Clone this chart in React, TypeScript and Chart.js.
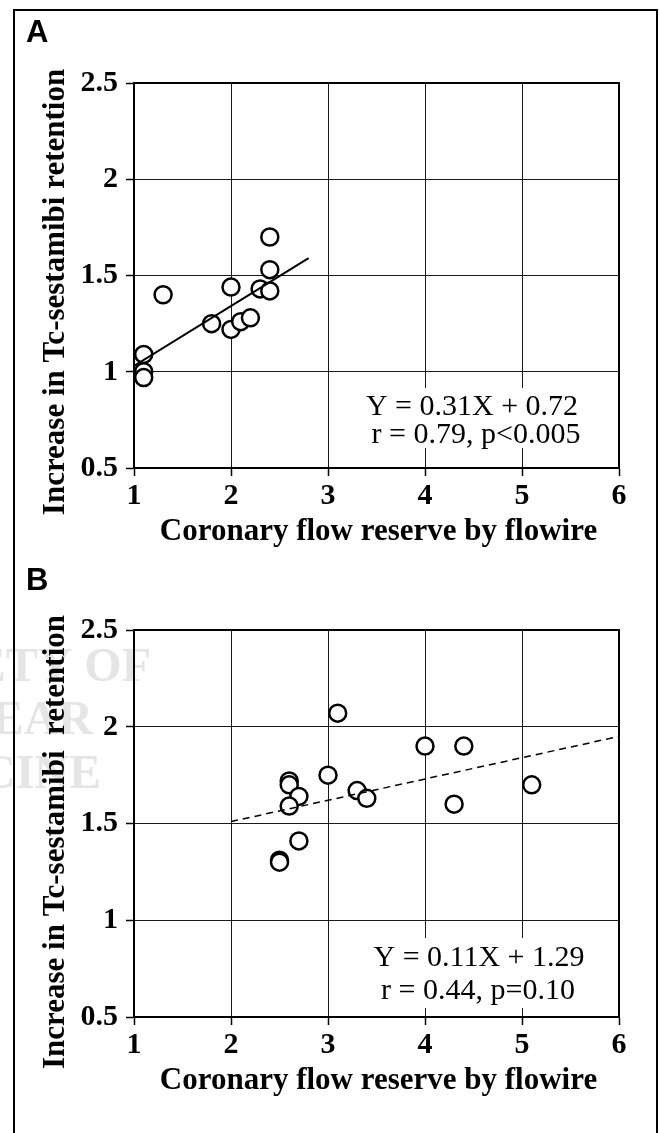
import React, { useEffect, useRef } from "react";
import { Chart, registerables } from "chart.js";

Chart.register(...registerables);

// ---------- data ----------
const xTickValues = [1, 2, 3, 4, 5, 6];
const yTickValues = [0.5, 1, 1.5, 2, 2.5];

// Panel A
const aFlowX = [1.1, 1.1, 1.1, 1.3, 1.8, 2.0, 2.0, 2.1, 2.2, 2.3, 2.4, 2.4, 2.4];
const aRetY = [1.09, 1.0, 0.97, 1.4, 1.25, 1.44, 1.22, 1.26, 1.28, 1.43, 1.42, 1.53, 1.7];
const aFitX = [1.0, 2.8];
const aFitY = [1.03, 1.59];

// Panel B
const bFlowX = [3.1, 4.0, 4.4, 3.0, 2.6, 2.6, 2.7, 2.6, 3.3, 3.4, 5.1, 4.3, 2.7, 2.5, 2.5];
const bRetY = [2.07, 1.9, 1.9, 1.75, 1.72, 1.7, 1.64, 1.59, 1.67, 1.63, 1.7, 1.6, 1.41, 1.31, 1.3];
const bFitX = [2.0, 6.0];
const bFitY = [1.51, 1.95];

const xTitle = "Coronary flow reserve by flowire";
const yTitleA = "Increase in Tc-sestamibi retention";
const yTitleB = "Increase in Tc-sestamibi  retention";
const eqA = ["Y = 0.31X + 0.72", "r = 0.79, p<0.005"];
const eqB = ["Y = 0.11X + 1.29", "r = 0.44, p=0.10"];
const watermark = ["SOCIETY OF", "NUCLEAR", "MEDICINE"];

const SERIF = '"Liberation Serif", "Times New Roman", serif';
const SANS = '"Liberation Sans", Arial, sans-serif';

type PanelCfg = {
  letter: string;
  top: number;
  height: number;
  areaTop: number;
  areaBottom: number;
  xs: number[];
  ys: number[];
  fitX: number[];
  fitY: number[];
  dashed: boolean;
  yTitle: string;
  eq: string[];
  eqBase: number[];
  eqCenter: number[];
  eqBox: number[];
  letterBase: number;
  yTitleCenter: number;
  xTitleBase: number;
  mark: boolean;
};

const panels: PanelCfg[] = [
  {
    letter: "A",
    top: 0,
    height: 560,
    areaTop: 83,
    areaBottom: 468,
    xs: aFlowX,
    ys: aRetY,
    fitX: aFitX,
    fitY: aFitY,
    dashed: false,
    yTitle: yTitleA,
    eq: eqA,
    eqBase: [415, 443],
    eqCenter: [472, 476],
    eqBox: [356, 388, 232, 60],
    letterBase: 42,
    yTitleCenter: 292,
    xTitleBase: 540,
    mark: false,
  },
  {
    letter: "B",
    top: 560,
    height: 573,
    areaTop: 70,
    areaBottom: 457,
    xs: bFlowX,
    ys: bRetY,
    fitX: bFitX,
    fitY: bFitY,
    dashed: true,
    yTitle: yTitleB,
    eq: eqB,
    eqBase: [406, 439],
    eqCenter: [479, 478],
    eqBox: [364, 378, 232, 70],
    letterBase: 30,
    yTitleCenter: 282,
    xTitleBase: 529,
    mark: true,
  },
];

function Panel({ cfg }: { cfg: PanelCfg }) {
  const ref = useRef<HTMLCanvasElement | null>(null);

  useEffect(() => {
    const canvas = ref.current;
    if (!canvas) return;

    const decor = {
      id: "decor" + cfg.letter,
      beforeDraw(chart: any) {
        const ctx = chart.ctx;
        ctx.save();
        ctx.fillStyle = "#fff";
        ctx.fillRect(0, 0, chart.width, chart.height);
        if (cfg.mark) {
          ctx.fillStyle = "#e5e5e5";
          ctx.font = `bold 48px ${SERIF}`;
          ctx.textAlign = "right";
          ctx.textBaseline = "alphabetic";
          ctx.fillText(watermark[0], 151, 121);
          ctx.fillText(watermark[1], 93, 174);
          ctx.fillText(watermark[2], 101, 228);
        }
        ctx.restore();
      },
      beforeDatasetsDraw(chart: any) {
        const { ctx, chartArea } = chart;
        ctx.save();
        // white box behind the regression text (hides grid lines)
        ctx.fillStyle = "#fff";
        ctx.fillRect(cfg.eqBox[0], cfg.eqBox[1], cfg.eqBox[2], cfg.eqBox[3]);
        ctx.strokeStyle = "#000";
        ctx.lineWidth = 2;
        ctx.strokeRect(
          chartArea.left,
          chartArea.top,
          chartArea.right - chartArea.left,
          chartArea.bottom - chartArea.top
        );
        ctx.restore();
      },
      afterDraw(chart: any) {
        const { ctx, chartArea } = chart;
        ctx.save();
        ctx.fillStyle = "#000";
        // panel letter
        ctx.font = `bold 31px ${SANS}`;
        ctx.textAlign = "left";
        ctx.textBaseline = "alphabetic";
        ctx.fillText(cfg.letter, 26, cfg.letterBase);
        // x title
        ctx.font = `bold 31px ${SERIF}`;
        ctx.textAlign = "center";
        ctx.fillText(xTitle, (chartArea.left + chartArea.right) / 2 + 2, cfg.xTitleBase);
        // y title
        ctx.save();
        ctx.translate(64, cfg.yTitleCenter);
        ctx.rotate(-Math.PI / 2);
        ctx.textAlign = "center";
        ctx.textBaseline = "alphabetic";
        ctx.fillText(cfg.yTitle, 0, 0);
        ctx.restore();
        // equation
        ctx.font = `30px ${SERIF}`;
        ctx.textAlign = "center";
        cfg.eq.forEach((line, i) => {
          ctx.fillText(line, cfg.eqCenter[i], cfg.eqBase[i]);
        });
        ctx.restore();
      },
    };

    const tickFont = { family: SERIF, size: 30, weight: "bold" };
    const gridCfg = {
      color: "#1a1a1a",
      lineWidth: 1,
      tickLength: 8,
      tickColor: "#000",
      tickWidth: 1.5,
    };

    const chart = new Chart(canvas, {
      type: "scatter",
      data: {
        datasets: [
          {
            type: "line",
            label: "fit",
            data: cfg.fitX.map((x, i) => ({ x, y: cfg.fitY[i] })),
            borderColor: "#000",
            borderWidth: cfg.dashed ? 1.5 : 2,
            borderDash: cfg.dashed ? [7, 5] : [],
            pointRadius: 0,
            fill: false,
            order: 0,
          } as any,
          {
            label: "patients",
            data: cfg.xs.map((x, i) => ({ x, y: cfg.ys[i] })),
            pointRadius: 8.5,
            pointBorderWidth: 2.5,
            borderColor: "#000",
            backgroundColor: "#fff",
            pointBackgroundColor: "#fff",
            pointBorderColor: "#000",
            order: 1,
          } as any,
        ],
      },
      options: {
        responsive: false,
        animation: false,
        devicePixelRatio: 1,
        layout: {
          padding: { left: 0, right: 41, top: cfg.areaTop, bottom: 0 },
        },
        plugins: {
          legend: { display: false },
          tooltip: { enabled: false },
          title: { display: false },
        },
        scales: {
          x: {
            type: "linear",
            min: 1,
            max: 6,
            afterBuildTicks: (s: any) => {
              s.ticks = xTickValues.map((v) => ({ value: v }));
            },
            afterFit: (s: any) => {
              s.height = cfg.height - cfg.areaBottom;
            },
            ticks: {
              color: "#000",
              font: tickFont,
              padding: 2,
              maxRotation: 0,
              callback: (v: any) => String(v),
            },
            grid: gridCfg,
            border: { display: true, color: "#000", width: 2 },
          },
          y: {
            type: "linear",
            min: 0.5,
            max: 2.5,
            afterBuildTicks: (s: any) => {
              s.ticks = yTickValues.map((v) => ({ value: v }));
            },
            afterFit: (s: any) => {
              s.width = 134;
            },
            ticks: {
              color: "#000",
              font: tickFont,
              padding: 8,
              callback: (v: any) => String(v),
            },
            grid: gridCfg,
            border: { display: true, color: "#000", width: 2 },
          },
        },
      } as any,
      plugins: [decor],
    });

    return () => chart.destroy();
  }, [cfg]);

  return (
    <canvas
      ref={ref}
      width={660}
      height={cfg.height}
      style={{
        position: "absolute",
        left: 0,
        top: cfg.top,
        width: 660,
        height: cfg.height,
        display: "block",
      }}
    />
  );
}

export default function App() {
  return (
    <div
      style={{
        position: "absolute",
        left: 0,
        top: 0,
        width: 660,
        height: 1133,
        overflow: "hidden",
        background: "#fff",
      }}
    >
      {panels.map((p) => (
        <Panel key={p.letter} cfg={p} />
      ))}
      <div
        style={{
          position: "absolute",
          left: 13,
          top: 9,
          width: 645,
          height: 1200,
          border: "2px solid #000",
          boxSizing: "border-box",
          pointerEvents: "none",
        }}
      />
    </div>
  );
}
